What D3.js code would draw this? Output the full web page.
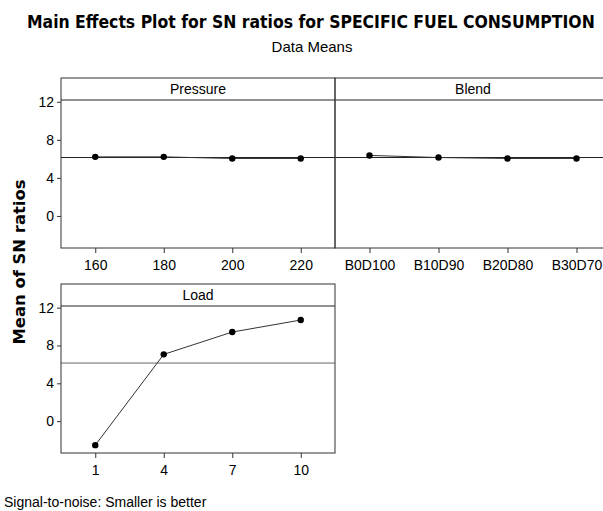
<!DOCTYPE html>
<html>
<head>
<meta charset="utf-8">
<script src="https://cdn.jsdelivr.net/npm/d3@7"></script>
<style>
  body { margin: 0; background: #fff; }
  svg { display: block; }
  .tick text { font-family: "Liberation Sans", Arial, sans-serif; font-size: 14px; fill: #000; }
</style>
</head>
<body>
<svg width="603" height="511"></svg>
<script>
// data
var pressureLevels = ["160", "180", "200", "220"];
var pressureSN = [6.21, 6.21, 6.04, 6.04];

var blendLevels = ["B0D100", "B10D90", "B20D80", "B30D70"];
var blendSN = [6.36, 6.14, 6.04, 6.04];

var loadLevels = ["1", "4", "7", "10"];
var loadSN = [-2.54, 7.06, 9.42, 10.69];

var overallMean = 6.14;
var yTicks = [0, 4, 8, 12];

var svg = d3.select("svg");
var font = "'Liberation Sans', Arial, sans-serif";

// title squeezed horizontally to keep the taller look of the original
svg.append("text")
	.attr("transform", "translate(27,28) scale(0.95,1.1)")
	.style("font-family", "'DejaVu Sans', sans-serif").style("font-weight", "bold").style("font-size", "16.5px")
	.text("Main Effects Plot for SN ratios for SPECIFIC FUEL CONSUMPTION");

svg.append("text")
	.attr("x", 312).attr("y", 52)
	.attr("text-anchor", "middle")
	.style("font-family", font).style("font-size", "15px")
	.text("Data Means");

svg.append("text")
	.attr("transform", "translate(25,262) rotate(-90)")
	.attr("text-anchor", "middle")
	.attr("textLength", 165).attr("lengthAdjust", "spacingAndGlyphs")
	.style("font-family", "'DejaVu Sans', sans-serif").style("font-weight", "bold").style("font-size", "15px")
	.text("Mean of SN ratios");

svg.append("text")
	.attr("x", 4).attr("y", 507)
	.style("font-family", font).style("font-size", "14px")
	.text("Signal-to-noise: Smaller is better");

var panels = [
	{name: "Pressure", levels: pressureLevels, values: pressureSN, x: 61, y: 78, w: 274, h: 170, yaxis: true, lineCol: "#222"},
	{name: "Blend", levels: blendLevels, values: blendSN, x: 335, y: 78, w: 276, h: 170, yaxis: false, lineCol: "#222"},
	{name: "Load", levels: loadLevels, values: loadSN, x: 61, y: 284, w: 274, h: 169, yaxis: true, lineCol: "#666"}
];

var stripH = 22;

panels.forEach(function(p) {
	var g = svg.append("g").attr("transform", "translate(" + p.x + "," + p.y + ")");

	var x = d3.scalePoint().domain(p.levels).range([0, p.w]).padding(0.5);
	var y = d3.scaleLinear().domain([-3.37, 14.5]).range([p.h, 0]);

	// reference line at the overall mean
	g.append("line")
		.attr("x1", 0).attr("x2", p.w)
		.attr("y1", y(overallMean)).attr("y2", y(overallMean))
		.style("stroke", p.lineCol).style("stroke-width", 1);

	// strip with panel title
	g.append("line")
		.attr("x1", 0).attr("x2", p.w)
		.attr("y1", stripH).attr("y2", stripH)
		.style("stroke", "#222");
	g.append("text")
		.attr("x", p.w / 2).attr("y", 16)
		.attr("text-anchor", "middle")
		.style("font-family", font).style("font-size", "14px")
		.text(p.name);

	var line = d3.line()
		.x(function(d, i) { return x(p.levels[i]); })
		.y(function(d) { return y(d); });

	g.append("path")
		.datum(p.values)
		.attr("d", line)
		.style("fill", "none").style("stroke", "#333").style("stroke-width", 1);

	g.selectAll("circle")
		.data(p.values)
		.enter()
		.append("circle")
		.attr("cx", function(d, i) { return x(p.levels[i]); })
		.attr("cy", function(d) { return y(d); })
		.attr("r", 3.2)
		.style("fill", "#000");

	g.append("rect")
		.attr("x", 0).attr("y", 0)
		.attr("width", p.w).attr("height", p.h)
		.style("fill", "none").style("stroke", "#333").style("stroke-width", 1);

	var xAxis = g.append("g")
		.attr("transform", "translate(0," + p.h + ")")
		.call(d3.axisBottom(x).tickSize(5).tickPadding(7));
	xAxis.select(".domain").remove();
	xAxis.selectAll("line").style("stroke", "#333");

	if (p.yaxis) {
		var yAxis = g.append("g")
			.call(d3.axisLeft(y).tickValues(yTicks).tickSize(4).tickPadding(3));
		yAxis.select(".domain").remove();
		yAxis.selectAll("line").style("stroke", "#333");
	}
});
</script>
</body>
</html>
